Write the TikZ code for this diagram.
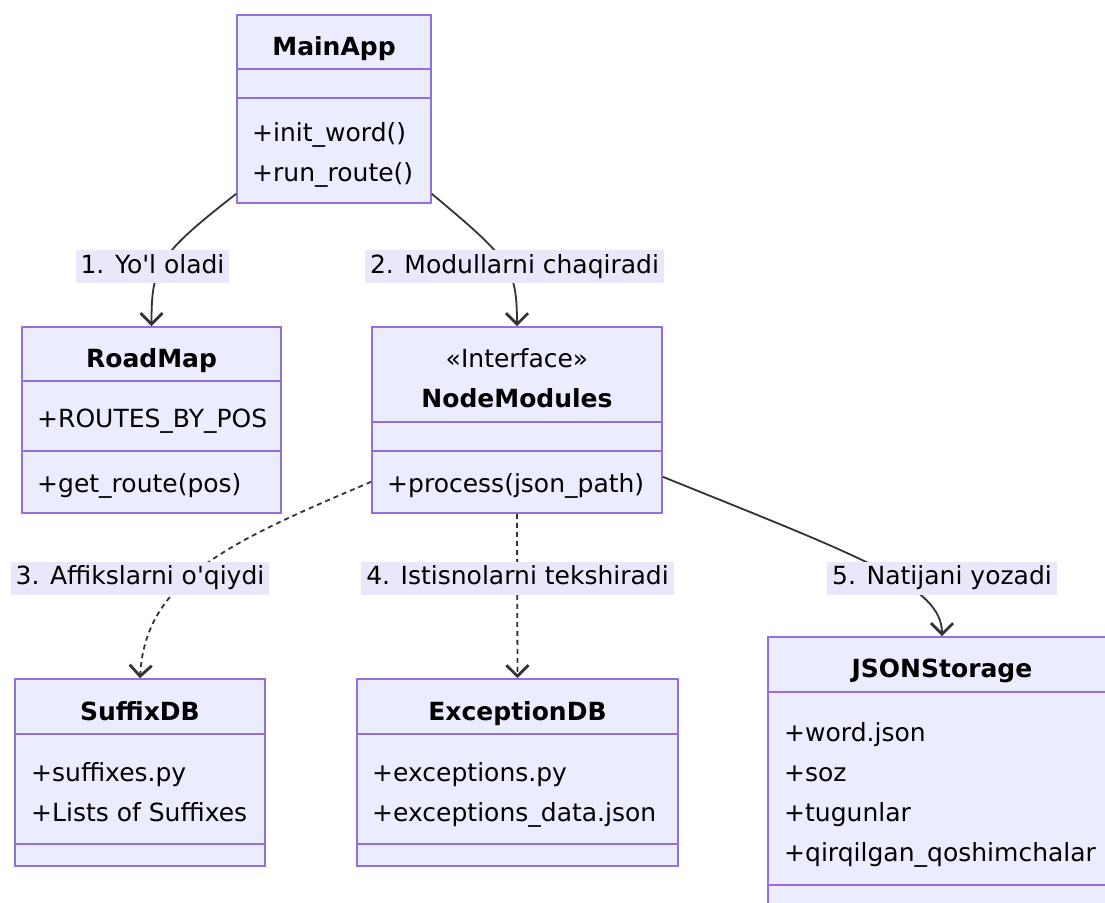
\documentclass[tikz,border=0pt]{standalone}
\usepackage{fontspec}
\setmainfont{DejaVu Sans}
\usetikzlibrary{arrows.meta}
\definecolor{classfill}{HTML}{ECECFF}
\definecolor{classline}{HTML}{9370DB}
\definecolor{labelfill}{HTML}{E8E8FA}
\definecolor{linkcol}{HTML}{333333}
\tikzset{
	cls/.style = {draw = classline, fill = classfill, line width = 1.6pt, inner sep = 0pt},
	div/.style = {draw = classline, line width = 1.6pt},
	attr/.style = {anchor = base west, inner sep = 0pt},
	clstitle/.style = {anchor = base, inner sep = 0pt, font = \fontsize{25}{30}\selectfont\bfseries},
	lbl/.style = {fill = labelfill, inner xsep = 5pt, inner ysep = 4pt, text height = 19pt, text depth = 6pt},
	link/.style = {draw = linkcol, line width = 1.8pt, -{Straight Barb[length = 11pt, width = 22pt, line width = 2.8pt]}},
	dep/.style = {link, dash pattern = on 5pt off 4pt}
}

\begin{document}
\begin{tikzpicture}[x = 1pt, y = 1pt, font = \fontsize{25}{30}\selectfont]
	
	\useasboundingbox (0, 0) rectangle (1105, -902);
	\clip (0, 0) rectangle (1105, -902);
	
	% classes
	\node[cls, minimum width = 194pt, minimum height = 188pt] (1) at (334, -109) {};
	\node[cls, minimum width = 259pt, minimum height = 186pt] (2) at (151.5, -420) {};
	\node[cls, minimum width = 290pt, minimum height = 186pt] (3) at (517, -420) {};
	\node[cls, minimum width = 250pt, minimum height = 187pt] (4) at (140, -772.5) {};
	\node[cls, minimum width = 321pt, minimum height = 187pt] (5) at (517.5, -772.5) {};
	\node[cls, minimum width = 348pt, minimum height = 278pt] (6) at (942, -776) {};
	
	\draw[div] ([yshift = -55pt]1.north west) -- ([yshift = -55pt]1.north east);
	\draw[div] ([yshift = -84pt]1.north west) -- ([yshift = -84pt]1.north east);
	\draw[div] ([yshift = -55pt]2.north west) -- ([yshift = -55pt]2.north east);
	\draw[div] ([yshift = -125pt]2.north west) -- ([yshift = -125pt]2.north east);
	\draw[div] ([yshift = -96pt]3.north west) -- ([yshift = -96pt]3.north east);
	\draw[div] ([yshift = -125pt]3.north west) -- ([yshift = -125pt]3.north east);
	\draw[div] ([yshift = -56pt]4.north west) -- ([yshift = -56pt]4.north east);
	\draw[div] ([yshift = -166pt]4.north west) -- ([yshift = -166pt]4.north east);
	\draw[div] ([yshift = -56pt]5.north west) -- ([yshift = -56pt]5.north east);
	\draw[div] ([yshift = -166pt]5.north west) -- ([yshift = -166pt]5.north east);
	\draw[div] ([yshift = -56pt]6.north west) -- ([yshift = -56pt]6.north east);
	\draw[div] ([yshift = -249pt]6.north west) -- ([yshift = -249pt]6.north east);
	
	\node[clstitle] (1-0) at (334, -55) {MainApp};
	\node[attr] (1-1) at (252, -141) {+init\_word()};
	\node[attr] (1-2) at (252, -181) {+run\_route()};
	
	\node[clstitle] (2-0) at (151.5, -367) {RoadMap};
	\node[attr] (2-1) at (37, -427) {+ROUTES\_BY\_POS};
	\node[attr] (2-2) at (37, -492) {+get\_route(pos)};
	
	\node[anchor = base, inner sep = 0pt] (3-s) at (517, -367) {«Interface»};
	\node[clstitle] (3-0) at (517, -407) {NodeModules};
	\node[attr] (3-1) at (387, -492) {+process(json\_path)};
	
	\node[clstitle] (4-0) at (140, -720) {SuffixDB};
	\node[attr] (4-1) at (31, -781) {+suffixes.py};
	\node[attr] (4-2) at (31, -821) {+Lists of Suffixes};
	
	\node[clstitle] (5-0) at (517.5, -720) {ExceptionDB};
	\node[attr] (5-1) at (372, -781) {+exceptions.py};
	\node[attr] (5-2) at (372, -821) {+exceptions\_data.json};
	
	\node[clstitle] (6-0) at (942, -677) {JSONStorage};
	\node[attr] (6-1) at (784, -741) {+word.json};
	\node[attr] (6-2) at (784, -781) {+soz};
	\node[attr] (6-3) at (784, -821) {+tugunlar};
	\node[attr] (6-4) at (784, -861) {+qirqilgan\_qoshimchalar};
	
	% relations
	\path ([yshift = 10pt]1.south west) edge[link, out = -142, in = 90, out distance = 100pt, in distance = 60pt] (2.north);
	\path ([yshift = 10pt]1.south east) edge[link, out = -40, in = 90, out distance = 100pt, in distance = 60pt] (3.north);
	\path ([yshift = 32pt]3.south west) edge[dep, out = 203, in = 87, out distance = 150pt, in distance = 100pt] (4.north);
	\path (3.south) edge[dep] (5.north);
	\path ([yshift = 37pt]3.south east) edge[link, out = -22, in = 90, out distance = 215pt, in distance = 50pt] (6.north);
	
	\node[lbl] (e1) at (152.5, -266.5) {1. Yo\textquotesingle l oladi};
	\node[lbl] (e2) at (514.5, -266.5) {2. Modullarni chaqiradi};
	\node[lbl] (e3) at (140, -578) {3. Affikslarni o\textquotesingle qiydi};
	\node[lbl] (e4) at (517.5, -578) {4. Istisnolarni tekshiradi};
	\node[lbl] (e5) at (942, -578) {5. Natijani yozadi};
	
\end{tikzpicture}
\end{document}
